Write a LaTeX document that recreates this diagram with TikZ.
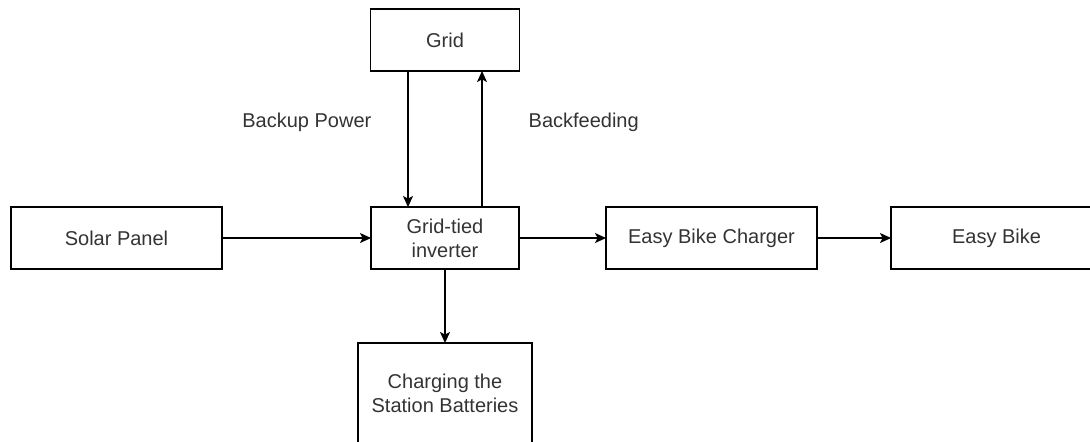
\documentclass[tikz,border=0pt]{standalone}
\usepackage{fontspec}
\setmainfont{Liberation Sans}
\usepackage{tikz}
\usetikzlibrary{arrows.meta,positioning}

\begin{document}
\begin{tikzpicture}[x=0.5pt, y=-0.5pt,
  block/.style={draw, rectangle, line width=0.65pt, minimum height=31pt, inner sep=0pt, outer sep=0pt, align=center, text=black!80},
  wideblock/.style={block, minimum width=105.5pt},
  flow/.style={-{Stealth[length=5.5pt, width=5pt, inset=1.3pt]}, line width=0.65pt},
  tag/.style={inner sep=0pt, text=black!80}]
  \useasboundingbox (0,0) rectangle (1090,441);
  \clip (0,0) rectangle (1090,441);

  \node[wideblock] (solar) at (116.5,238) {Solar Panel};
  \node[block, minimum width=74pt, right=74.5pt of solar] (inverter) {Grid-tied\\inverter};
  \node[wideblock, right=43.5pt of inverter] (charger) {Easy Bike Charger};
  \node[wideblock, right=37pt of charger] (bike) {Easy Bike};
  \node[block, minimum width=74.5pt, above=68pt of inverter] (grid) {Grid};
  \node[block, minimum width=87pt, minimum height=50pt, below=37pt of inverter] (batteries) {Charging the\\Station Batteries};

  \draw[flow] (solar) -- (inverter);
  \draw[flow] (inverter) -- (charger);
  \draw[flow] (charger) -- (bike);
  \draw[flow] (inverter) -- (batteries);
  \draw[flow] ([xshift=-18.5pt]grid.south) -- node[tag, left, pos=0.375, xshift=-18pt] {Backup Power} ([xshift=-18.5pt]inverter.north);
  \draw[flow] ([xshift=18.5pt]inverter.north) -- node[tag, right, pos=0.625, xshift=23pt] {Backfeeding} ([xshift=18.5pt]grid.south);
\end{tikzpicture}
\end{document}
